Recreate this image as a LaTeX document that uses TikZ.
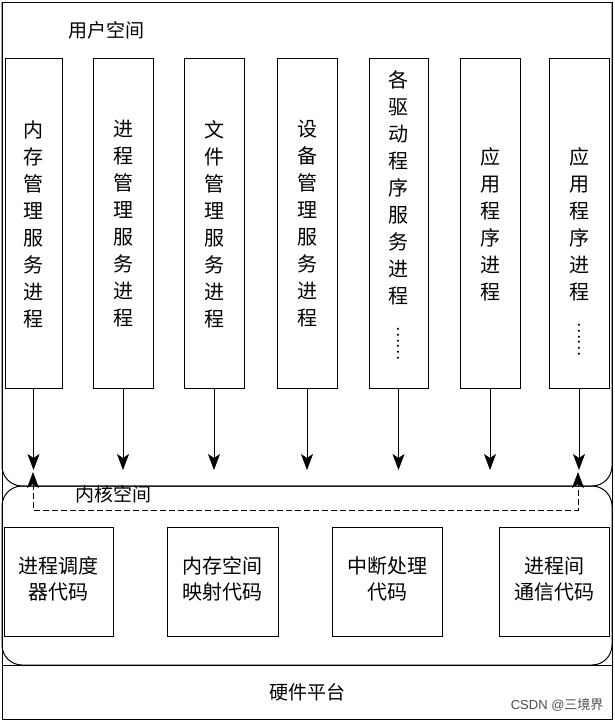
\documentclass[tikz,border=0pt]{standalone}
\usepackage{fontspec}
\setmainfont{Noto Sans CJK SC}
\newfontfamily\wm{Liberation Sans}
\usetikzlibrary{arrows.meta}
\newcommand{\vdot}{\rotatebox{-90}{\fontsize{16}{16}\selectfont ……}}
\tikzset{
  ubox/.style={draw,line width=0.8pt},
  vtext/.style={font=\fontsize{20}{27}\selectfont,align=center,anchor=north},
  ktext/.style={font=\fontsize{20}{26}\selectfont,align=center},
  arr/.style={-{Stealth[length=16pt,width=12pt,inset=4pt]},line width=0.8pt},
  lbl/.style={font=\fontsize{19}{22}\selectfont}
}
\begin{document}
\begin{tikzpicture}[x=1pt,y=-1pt]
\useasboundingbox (0,0) rectangle (614,721);
\draw[line width=1pt] (2,2) rectangle (612,719);
% user space
\draw[line width=1pt] (2,2) -- (2,466) arc[start angle=180,end angle=90,radius=20] -- (592,486) arc[start angle=90,end angle=0,radius=20] -- (612,2);
% kernel space
\draw[line width=1pt] (2,506) arc[start angle=180,end angle=270,radius=20] -- (592,486) arc[start angle=270,end angle=360,radius=20] -- (612,645) arc[start angle=0,end angle=90,radius=20] -- (22,665) arc[start angle=90,end angle=180,radius=20] -- cycle;
\draw[line width=1pt] (2,665) -- (612,665);
\node[lbl] (us) at (106,30) {用户空间};
\node[lbl] (ks) at (113,494) {内核空间};
\node[lbl] (hw) at (307,692) {硬件平台};
\node[font=\wm\fontsize{13}{15}\selectfont,text=black!70,anchor=east] (csdn) at (607,705) {CSDN @\mbox{\fontspec{Noto Sans CJK SC}三境界}};
% user boxes
\foreach \n/\xa/\xb/\ty/\txt in {
 a/5/62/117/内\\存\\管\\理\\服\\务\\进\\程,
 b/93/153/117/进\\程\\管\\理\\服\\务\\进\\程,
 c/184/244/117/文\\件\\管\\理\\服\\务\\进\\程,
 d/277/337/117/设\\备\\管\\理\\服\\务\\进\\程,
 e/369/428/67/各\\驱\\动\\程\\序\\服\\务\\进\\程\\[-4pt]\vdot,
 f/460/520/144/应\\用\\程\\序\\进\\程,
 g/549/609/144/应\\用\\程\\序\\进\\程\\[-4pt]\vdot}{
  \draw[ubox] (\xa,58) rectangle (\xb,388);
  \coordinate (\n b) at ({(\xa+\xb)/2},388);
  \coordinate (\n k) at ({(\xa+\xb)/2},470);
  \node[vtext] (\n t) at ({(\xa+\xb)/2},\ty) {\txt};
  \draw[arr] (\n b) -- (\n k);
}
% dashed
\coordinate (dl) at (33,510);
\coordinate (dr) at (578,510);
\coordinate (dlt) at (33,472);
\coordinate (drt) at (578,472);
\draw[dash pattern=on 6pt off 3pt,line width=0.9pt,{Stealth[length=16pt,width=12pt,inset=4pt]}-{Stealth[length=16pt,width=12pt,inset=4pt]}] (dlt) -- (dl) -- (dr) -- (drt);
% kernel boxes
\foreach \n/\xa/\xb/\txt in {
 p/4/113/进程调度\\器代码,
 q/167/278/内存空间\\映射代码,
 r/332/442/中断处理\\代码,
 s/499/609/进程间\\通信代码}{
  \draw[ubox] (\xa,527) rectangle (\xb,636);
  \node[ktext] (\n) at ({(\xa+\xb)/2},579) {\txt};
}
\end{tikzpicture}
\end{document}
